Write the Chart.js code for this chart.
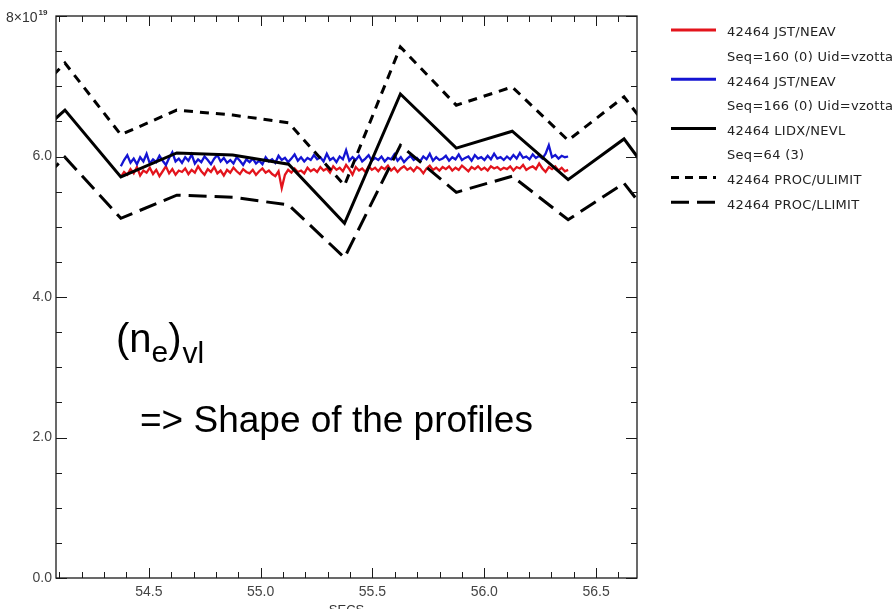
<!DOCTYPE html>
<html>
<head>
<meta charset="utf-8">
<title>42464 LIDX/NEVL</title>
<script src="https://cdn.jsdelivr.net/npm/chart.js@4.4.1/dist/chart.umd.min.js"></script>
<style>
  html, body { margin: 0; padding: 0; background: #fff; }
  #wrap { width: 895px; height: 609px; overflow: hidden; }
</style>
</head>
<body>
<div id="wrap"><canvas id="plot" width="895" height="609"></canvas></div>
<script>
// --- data (x in SECS, y in units of 1e19 m^-3) ---
const profileTimes = [53.875, 54.125, 54.375, 54.625, 54.875, 55.125, 55.375, 55.625, 55.875, 56.125, 56.375, 56.625, 56.875];
const nevl   = [5.95, 6.66, 5.71, 6.05, 6.02, 5.89, 5.05, 6.89, 6.12, 6.36, 5.67, 6.25, 5.18];
const ulimit = [6.50, 7.33, 6.31, 6.66, 6.59, 6.48, 5.59, 7.56, 6.73, 6.99, 6.23, 6.85, 5.81];
const llimit = [5.20, 5.99, 5.12, 5.45, 5.42, 5.31, 4.56, 6.16, 5.49, 5.72, 5.10, 5.62, 4.60];

// JST/NEAV traces, sampled evenly between these times
const jstStart = 54.375;
const jstEnd = 56.375;
const neavSeq160 = [
  5.71, 5.78, 5.74, 5.82, 5.76, 5.85, 5.73, 5.80, 5.77, 5.84, 5.75, 5.81, 5.72, 5.79, 5.86, 5.76, 5.82, 5.74, 5.80, 5.78,
  5.83, 5.75, 5.81, 5.77, 5.86, 5.79, 5.74, 5.82, 5.78, 5.85, 5.76, 5.80, 5.73, 5.81, 5.77, 5.84, 5.79, 5.75, 5.82, 5.78,
  5.76, 5.81, 5.74, 5.79, 5.83, 5.77, 5.80, 5.75, 5.72, 5.79, 5.55, 5.74, 5.81, 5.77, 5.83, 5.78, 5.80, 5.76, 5.84, 5.79,
  5.82, 5.78, 5.85, 5.80, 5.83, 5.77, 5.86, 5.81, 5.84, 5.79, 5.88, 5.82, 5.74, 5.85, 5.80, 5.83, 5.78, 5.86, 5.81, 5.84,
  5.79, 5.85, 5.82, 5.87, 5.80, 5.84, 5.78, 5.83, 5.86, 5.81, 5.84, 5.79, 5.85, 5.82, 5.76, 5.83, 5.87, 5.81, 5.84, 5.80,
  5.85, 5.82, 5.86, 5.80, 5.84, 5.81, 5.87, 5.83, 5.79, 5.85, 5.82, 5.86, 5.81, 5.84, 5.80, 5.86, 5.83, 5.85, 5.81, 5.84,
  5.82, 5.86, 5.80, 5.85, 5.83, 5.88, 5.81, 5.84, 5.86, 5.82, 5.90, 5.83, 5.78, 5.85, 5.82, 5.86, 5.80, 5.84, 5.79, 5.81
];
const neavSeq166 = [
  5.86, 5.95, 6.02, 5.91, 5.97, 5.89, 5.99, 5.93, 6.04, 5.90, 5.96, 5.92, 6.01, 5.94, 5.88, 5.98, 6.06, 5.93, 5.97, 5.91,
  5.99, 5.94, 6.03, 5.90, 5.96, 5.92, 6.00, 5.95, 5.89, 5.97, 6.02, 5.93, 5.98, 5.91, 5.95, 5.90, 5.99, 5.94, 5.88, 5.96,
  5.92, 5.97, 5.90, 5.94, 5.89, 5.99, 5.93, 5.96, 5.91, 6.01, 5.95, 5.98, 5.92, 5.97, 6.03, 5.94, 5.99, 5.93, 5.98, 5.95,
  6.02, 5.96, 5.99, 5.93, 6.04, 5.95, 5.98, 5.92, 6.00, 5.96, 6.09, 5.94, 5.99, 5.95, 6.01, 5.93, 5.97, 6.02, 5.94, 5.98,
  5.95, 6.00, 5.93, 5.98, 5.96, 6.03, 5.94, 5.99, 5.92, 5.97, 6.01, 5.95, 5.98, 5.93, 6.00, 5.96, 6.04, 5.94, 5.99, 5.95,
  5.97, 6.01, 5.94, 5.99, 5.96, 6.03, 5.95, 5.98, 6.00, 5.94, 6.02, 5.97, 5.99, 5.95, 6.01, 5.96, 6.04, 5.97, 5.99, 5.95,
  6.00, 5.96, 6.02, 5.97, 6.05, 5.98, 6.00, 5.96, 6.03, 5.98, 6.01, 5.97, 6.04, 6.16, 5.99, 6.02, 5.97, 6.01, 5.99, 6.00
];

const xMin = 54.085;
const xMax = 56.683;
const xTickLabels = [54.5, 55.0, 55.5, 56.0, 56.5];
const yTickLabels = [0, 2, 4, 6];

const legendRows = [
  { text: '42464 JST/NEAV', color: '#e3141c', dash: [] },
  { text: 'Seq=160 (0) Uid=vzotta' },
  { text: '42464 JST/NEAV', color: '#1414d2', dash: [] },
  { text: 'Seq=166 (0) Uid=vzotta' },
  { text: '42464 LIDX/NEVL', color: '#000', dash: [] },
  { text: 'Seq=64 (3)' },
  { text: '42464 PROC/ULIMIT', color: '#000', dash: [8, 6] },
  { text: '42464 PROC/LLIMIT', color: '#000', dash: [18, 8] }
];

function pairs(xs, ys) {
  return ys.map((v, i) => ({ x: xs[i], y: v }));
}
function sampled(ys) {
  const step = (jstEnd - jstStart) / (ys.length - 1);
  return ys.map((v, i) => ({ x: jstStart + i * step, y: v }));
}

// box with inward ticks, IDL style
const idlBox = {
  id: 'idlBox',
  afterDatasetsDraw(chart) {
    const { ctx, chartArea: a, scales: { x, y } } = chart;
    ctx.save();
    ctx.strokeStyle = '#1a1a1a';
    ctx.lineWidth = 1.3;
    ctx.strokeRect(a.left, a.top, a.right - a.left, a.bottom - a.top);
    ctx.lineWidth = 1;
    ctx.beginPath();
    for (let k = Math.ceil(x.min * 10); k <= Math.floor(x.max * 10); k++) {
      const px = Math.round(x.getPixelForValue(k / 10)) + 0.5;
      const len = k % 5 === 0 ? 10 : 6;
      ctx.moveTo(px, a.bottom); ctx.lineTo(px, a.bottom - len);
      ctx.moveTo(px, a.top); ctx.lineTo(px, a.top + len);
    }
    for (let k = 0; k <= 16; k++) {
      const py = Math.round(y.getPixelForValue(k / 2)) + 0.5;
      const len = k % 4 === 0 ? 11 : 6;
      ctx.moveTo(a.left, py); ctx.lineTo(a.left + len, py);
      ctx.moveTo(a.right, py); ctx.lineTo(a.right - len, py);
    }
    ctx.stroke();
    ctx.restore();
  },
  afterDraw(chart) {
    const { ctx, chartArea: a, scales: { x, y } } = chart;
    ctx.save();

    // top y label 8x10^19
    ctx.fillStyle = '#333';
    ctx.textBaseline = 'alphabetic';
    ctx.textAlign = 'left';
    ctx.font = '14px "Liberation Sans", Arial, sans-serif';
    const ty = y.getPixelForValue(8) + 6;
    ctx.fillText('8×10', 6, ty);
    const w8 = ctx.measureText('8×10').width;
    ctx.font = 'bold 8px "Liberation Sans", Arial, sans-serif';
    ctx.fillText('19', 6 + w8 + 1, ty - 7);

    // x axis title, cut by the bottom edge as in the source
    ctx.font = '13px "Liberation Sans", Arial, sans-serif';
    ctx.textAlign = 'center';
    ctx.textBaseline = 'top';
    ctx.fillText('SECS', (a.left + a.right) / 2, 604);

    // annotations
    ctx.fillStyle = '#000';
    ctx.textAlign = 'left';
    ctx.textBaseline = 'alphabetic';
    let cx = 116;
    const big = '40px "Liberation Sans", Arial, sans-serif';
    const sub = '30px "Liberation Sans", Arial, sans-serif';
    ctx.font = big; ctx.fillText('(n', cx, 352); cx += ctx.measureText('(n').width;
    ctx.font = sub; ctx.fillText('e', cx, 362); cx += ctx.measureText('e').width;
    ctx.font = big; ctx.fillText(')', cx, 352); cx += ctx.measureText(')').width;
    ctx.font = sub; ctx.fillText('vl', cx + 1, 363);
    ctx.font = '37px "Liberation Sans", Arial, sans-serif';
    ctx.fillText('=> Shape of the profiles', 140, 432);

    // legend
    ctx.font = '13px "DejaVu Sans", sans-serif';
    ctx.letterSpacing = '0.3px';
    ctx.textBaseline = 'middle';
    legendRows.forEach((row, i) => {
      const ry = 33 + i * 24.6;
      ctx.fillStyle = '#222';
      ctx.fillText(row.text, 727, ry);
      if (row.color) {
        ctx.strokeStyle = row.color;
        ctx.lineWidth = 3;
        ctx.setLineDash(row.dash);
        ctx.beginPath();
        ctx.moveTo(671, ry - 3);
        ctx.lineTo(716, ry - 3);
        ctx.stroke();
        ctx.setLineDash([]);
      }
    });
    ctx.restore();
  }
};

const ctx = document.getElementById('plot').getContext('2d');
const tickFont = { family: '"Liberation Sans", Arial, sans-serif', size: 14 };

new Chart(ctx, {
  type: 'line',
  data: {
    datasets: [
      { label: '42464 LIDX/NEVL', data: pairs(profileTimes, nevl), borderColor: '#000', borderWidth: 3, order: 0 },
      { label: '42464 PROC/ULIMIT', data: pairs(profileTimes, ulimit), borderColor: '#000', borderWidth: 3, borderDash: [9, 7], order: 0 },
      { label: '42464 PROC/LLIMIT', data: pairs(profileTimes, llimit), borderColor: '#000', borderWidth: 3, borderDash: [18, 8], order: 0 },
      { label: '42464 JST/NEAV Seq=166', data: sampled(neavSeq166), borderColor: '#1414d2', borderWidth: 2.3, order: 1 },
      { label: '42464 JST/NEAV Seq=160', data: sampled(neavSeq160), borderColor: '#e3141c', borderWidth: 2.3, order: 2 }
    ]
  },
  options: {
    responsive: false,
    animation: false,
    parsing: false,
    normalized: true,
    clip: 0,
    layout: { padding: { top: 16, right: 258, left: 0, bottom: 0 } },
    elements: {
      point: { radius: 0 },
      line: { tension: 0, fill: false, borderCapStyle: 'butt', borderJoinStyle: 'miter' }
    },
    plugins: {
      legend: { display: false },
      tooltip: { enabled: false }
    },
    scales: {
      x: {
        type: 'linear',
        min: xMin,
        max: xMax,
        afterBuildTicks: s => { s.ticks = xTickLabels.map(v => ({ value: v })); },
        afterFit: s => { s.height = 31; },
        grid: { display: false, drawTicks: false },
        border: { display: false },
        ticks: { font: tickFont, color: '#444', padding: 6, maxRotation: 0, autoSkip: false, callback: v => v.toFixed(1) }
      },
      y: {
        type: 'linear',
        min: 0,
        max: 8,
        afterBuildTicks: s => { s.ticks = yTickLabels.map(v => ({ value: v })); },
        afterFit: s => { s.width = 56; },
        grid: { display: false, drawTicks: false },
        border: { display: false },
        ticks: { font: tickFont, color: '#444', padding: 4, autoSkip: false, callback: v => v.toFixed(1) }
      }
    }
  },
  plugins: [idlBox]
});
</script>
</body>
</html>
